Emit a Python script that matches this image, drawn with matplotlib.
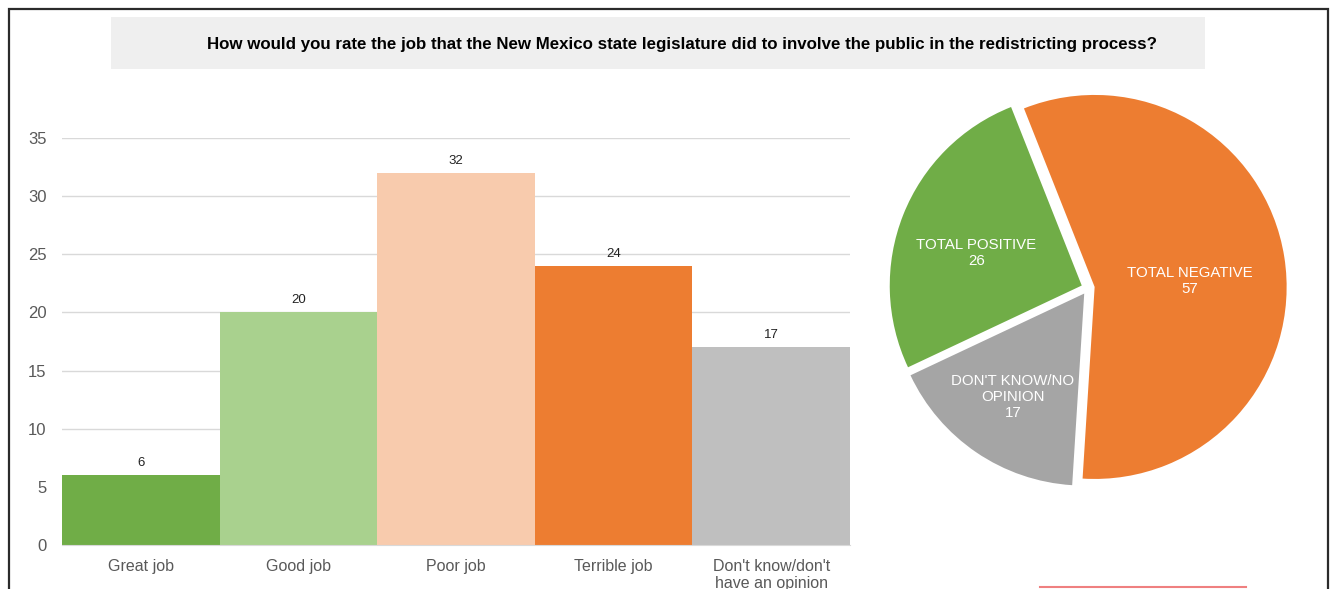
import numpy as np
import matplotlib
matplotlib.use("Agg")
import matplotlib.pyplot as plt
from matplotlib.patches import Rectangle
from matplotlib.lines import Line2D

plt.rcParams['font.family'] = ['Liberation Sans', 'DejaVu Sans']

# Survey answers
categories = ["Great job", "Good job", "Poor job", "Terrible job",
              "Don't know/don't\nhave an opinion"]
values = [6, 20, 32, 24, 17]
bar_colors = ["#70ad47", "#a9d18e", "#f8cbad", "#ed7d31", "#bfbfbf"]

# Grouped totals
pie_labels = ["TOTAL NEGATIVE", "DON'T KNOW/NO\nOPINION", "TOTAL POSITIVE"]
pie_values = [57, 17, 26]
pie_colors = ["#ed7d31", "#a5a5a5", "#70ad47"]
# label placement (radius fraction, angle in degrees) from the pie centre
label_pos = [(0.53, 4.0), (0.69, -124.5), (0.61, 162.5)]

title = ("How would you rate the job that the New Mexico state legislature "
         "did to involve the public in the redistricting process?")

W, H = 1334, 589
fig = plt.figure(figsize=(W / 100, H / 100), dpi=100)
fig.patch.set_facecolor("white")

def px(x0, y0, x1, y1):
    # pixel box (top-left origin) -> figure fraction rect
    return [x0 / W, 1 - y1 / H, (x1 - x0) / W, (y1 - y0) / H]

# outer frame and title band
fig.patches.append(Rectangle((9 / W, -0.05), (1328 - 9) / W, 1.05 - 9 / H,
                             transform=fig.transFigure, fill=False,
                             edgecolor="#2b2b2b", linewidth=1.6, zorder=0))
fig.patches.append(Rectangle((111 / W, 1 - 69 / H), (1205 - 111) / W, 52 / H,
                             transform=fig.transFigure, facecolor="#efefef",
                             edgecolor="none", zorder=0))
fig.text(682 / W, 1 - 44 / H, title, ha="center", va="center",
         fontsize=12.2, fontweight="bold", color="#000000")
fig.lines.append(Line2D([1040 / W, 1246 / W], [2 / H, 2 / H],
                        transform=fig.transFigure, color="#ef8080", lw=1.5))

# bar chart
ax = fig.add_axes(px(62, 138, 850, 545))
x = np.arange(len(categories))
bars = ax.bar(x, values, width=1.0, color=bar_colors, zorder=2)
ax.bar_label(bars, labels=[str(v) for v in values], padding=4.5,
             fontsize=9.5, color="#222222")
ax.set_xlim(-0.5, len(categories) - 0.5)
ax.set_ylim(0, 35)
ax.set_yticks(range(0, 36, 5))
ax.yaxis.grid(True, color="#d9d9d9", linewidth=1, zorder=0)
ax.set_axisbelow(True)
for s in ["top", "right", "left"]:
    ax.spines[s].set_visible(False)
ax.spines["bottom"].set_color("#d9d9d9")
ax.set_xticks(x)
ax.set_xticklabels(categories)
ax.tick_params(axis="y", length=0, pad=11, labelsize=12, labelcolor="#595959")
ax.tick_params(axis="x", length=0, pad=10, labelsize=11.5, labelcolor="#595959")

# pie of grouped totals
r_px = 192
cx, cy = 1088, 288
half = 1.2 * r_px
pax = fig.add_axes(px(cx - half, cy - half, cx + half, cy + half))
wedges, _ = pax.pie(pie_values, colors=pie_colors, startangle=111.6,
                    counterclock=False, explode=[0.035] * 3,
                    wedgeprops=dict(linewidth=0))
pax.set_xlim(-1.2, 1.2)
pax.set_ylim(-1.2, 1.2)
pax.set_aspect("equal")
pax.axis("off")
for lab, v, (d, a) in zip(pie_labels, pie_values, label_pos):
    ang = np.deg2rad(a)
    pax.text(d * np.cos(ang), d * np.sin(ang), f"{lab}\n{v}",
             ha="center", va="center", color="white", fontsize=10.8,
             linespacing=1.2)

fig.savefig("out.png", dpi=100)
